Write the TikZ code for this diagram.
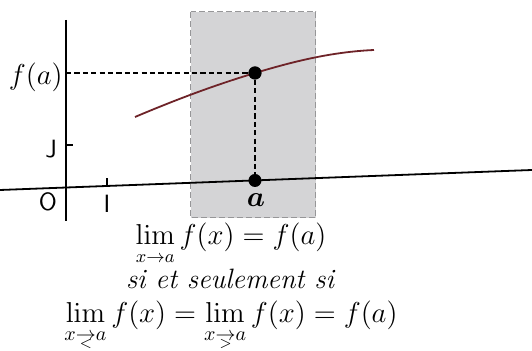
\documentclass[tikz,border=0pt]{standalone}
\usepackage{amsmath}
\definecolor{boxgray}{RGB}{212,212,214}
\definecolor{boxedge}{RGB}{150,150,152}
\definecolor{curvecol}{RGB}{110,35,40}
\newcommand{\tolt}{\mathrel{\vtop{\offinterlineskip\halign{\hfil##\hfil\cr$\scriptstyle\rightarrow$\cr\noalign{\kern-0.5pt}$\scriptscriptstyle<$\cr}}}}
\newcommand{\togt}{\mathrel{\vtop{\offinterlineskip\halign{\hfil##\hfil\cr$\scriptstyle\rightarrow$\cr\noalign{\kern-0.5pt}$\scriptscriptstyle>$\cr}}}}
\tikzset{
  axis/.style={line width=0.9pt, black},
  guide/.style={line width=0.7pt, dash pattern=on 2.6pt off 1.6pt, black},
  dot/.style={circle, fill=black, inner sep=0pt, minimum size=6.5pt},
  sflabel/.style={font=\sffamily\fontsize{12.5}{14}\selectfont, inner sep=0pt},
  mlabel/.style={font=\fontsize{13.5}{16}\selectfont, inner sep=0pt},
  eqtext/.style={font=\fontsize{14}{17}\selectfont, inner sep=0pt, anchor=base}
}
\begin{document}
\begin{tikzpicture}[x=0.5pt,y=-0.5pt]
\useasboundingbox (0,0) rectangle (532,351);
% shaded band
\fill[boxgray] (191,12) rectangle (316,218);
\draw[boxedge, line width=0.5pt, dash pattern=on 3pt off 1.5pt] (191,12) rectangle (316,218);
% axes
\coordinate (xl) at (0,190);
\coordinate (xr) at (532,170);
\coordinate (yt) at (66,20);
\coordinate (yb) at (66,221);
\draw[axis] (xl) -- (xr);
\draw[axis] (yt) -- (yb);
% ticks
\coordinate (jt) at (66,145);
\coordinate (jt2) at (73,145);
\draw[axis] (jt) -- (jt2);
\coordinate (it) at (107,186);
\coordinate (it2) at (107,178);
\draw[axis] (it) -- (it2);
% points
\node[dot] (fa) at (255,73) {};
\node[dot] (pa) at (255,180.5) {};
% curve through f(a)
\coordinate (cs) at (135,117);
\coordinate (ce) at (374,50);
\draw[curvecol, line width=0.9pt] (cs) .. controls (175,100) and (215,85) .. (fa.center)
  .. controls (292,62) and (330,52) .. (ce);
\node[dot] at (fa) {};
\coordinate (fay) at (66,73);
\draw[guide] (fay) -- (fa);
\draw[guide] (fa) -- (pa);
% labels
\node[mlabel, anchor=east] (lfa) at (63,77) {$f(a)$};
\node[sflabel] (lj) at (51,149) {J};
\node[sflabel] (lo) at (48,202) {O};
\node[sflabel] (l1) at (107,204) {I};
\node[mlabel] (la) at (256,200) {$\boldsymbol{a}$};
% equations
\node[eqtext, font=\fontsize{13.5}{16}\selectfont] (e1) at (231,245) {$\lim\limits_{x \to a} f(x) = f(a)$};
\node[eqtext] (e2) at (230,289) {\itshape si et seulement si};
\node[eqtext] (e3) at (231,323) {$\lim\limits_{x \tolt a} f(x) = \lim\limits_{x \togt a} f(x) = f(a)$};
\end{tikzpicture}
\end{document}
